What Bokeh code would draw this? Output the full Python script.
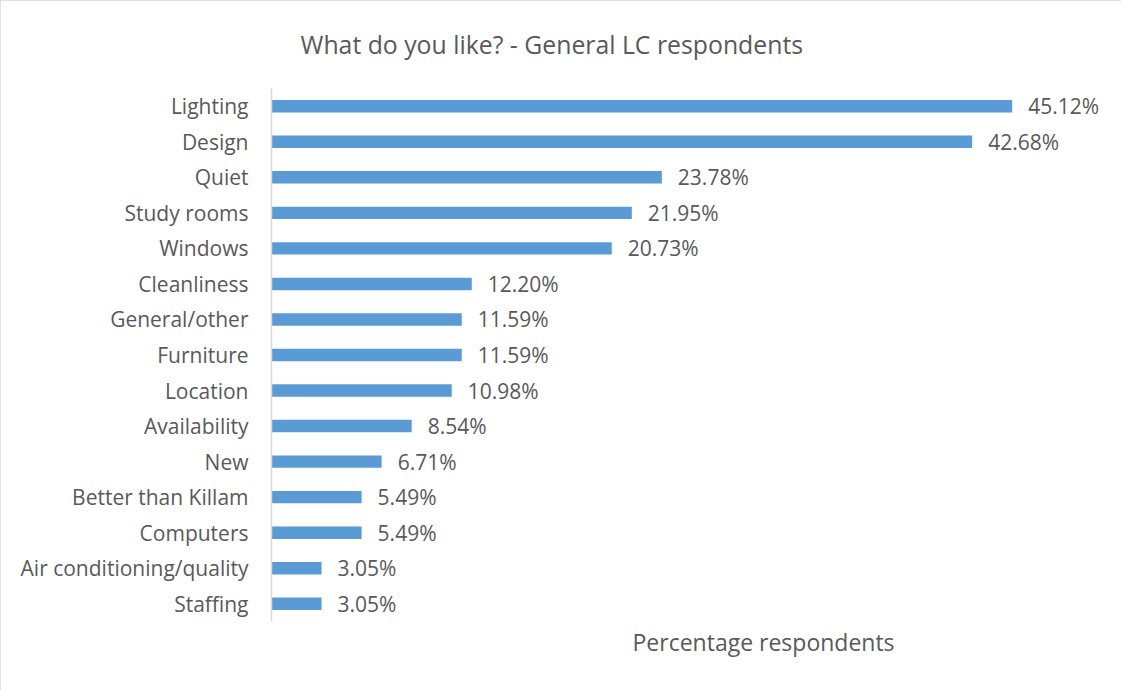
from bokeh.plotting import figure
from bokeh.models import ColumnDataSource, LabelSet, Title, FactorRange, Range1d
from bokeh.core.properties import value
from bokeh.embed import file_html
from bokeh.resources import INLINE

categories = ["Lighting", "Design", "Quiet", "Study rooms", "Windows", "Cleanliness",
              "General/other", "Furniture", "Location", "Availability", "New",
              "Better than Killam", "Computers", "Air conditioning/quality", "Staffing"]
values = [45.12, 42.68, 23.78, 21.95, 20.73, 12.20, 11.59, 11.59, 10.98, 8.54,
          6.71, 5.49, 5.49, 3.05, 3.05]
value_labels = ["%.2f%%" % v for v in values]

TEXT = "#595959"
FONT = "Open Sans"

src = ColumnDataSource(dict(cat=categories, val=values, lab=value_labels))

p = figure(width=1121, height=690, output_backend="svg", toolbar_location=None,
           y_range=FactorRange(*categories[::-1]), x_range=Range1d(0, 50.5),
           min_border_left=271, min_border_right=21, min_border_top=88, min_border_bottom=69)

p.hbar(y="cat", right="val", left=0, height=0.35, source=src,
       fill_color="#5B9BD5", line_color=None)

labels = LabelSet(x="val", y="cat", text="lab", source=src, x_offset=16,
                  text_baseline="middle", text_align="left",
                  text_font=value(FONT), text_font_size="21px", text_color=TEXT)
p.add_layout(labels)

p.xaxis.visible = False
p.xgrid.grid_line_color = None
p.ygrid.grid_line_color = None
p.outline_line_color = None

ax = p.yaxis[0]
ax.axis_line_color = "#d9d9d9"
ax.axis_line_width = 1.5
ax.major_tick_line_color = None
ax.minor_tick_line_color = None
ax.major_label_standoff = 17
ax.major_label_text_font = FONT
ax.major_label_text_font_size = "21px"
ax.major_label_text_color = TEXT

p.title.text = "What do you like? - General LC respondents"
p.title.align = "left"
p.title.offset = 29
p.title.standoff = 52
p.title.vertical_align = "top"
p.title.text_line_height = 0.7
p.title.text_font = FONT
p.title.text_font_size = "24.8px"
p.title.text_font_style = "normal"
p.title.text_color = TEXT

xlab = Title(text="Percentage respondents", align="left", offset=361,
             vertical_align="middle", standoff=6,
             text_font=FONT, text_font_size="23px", text_font_style="normal",
             text_color=TEXT)
p.add_layout(xlab, "below")

p.styles = {"outline": "2px solid #d9d9d9", "outline-offset": "-2px"}

open("out.html", "w").write(file_html(p, INLINE))
